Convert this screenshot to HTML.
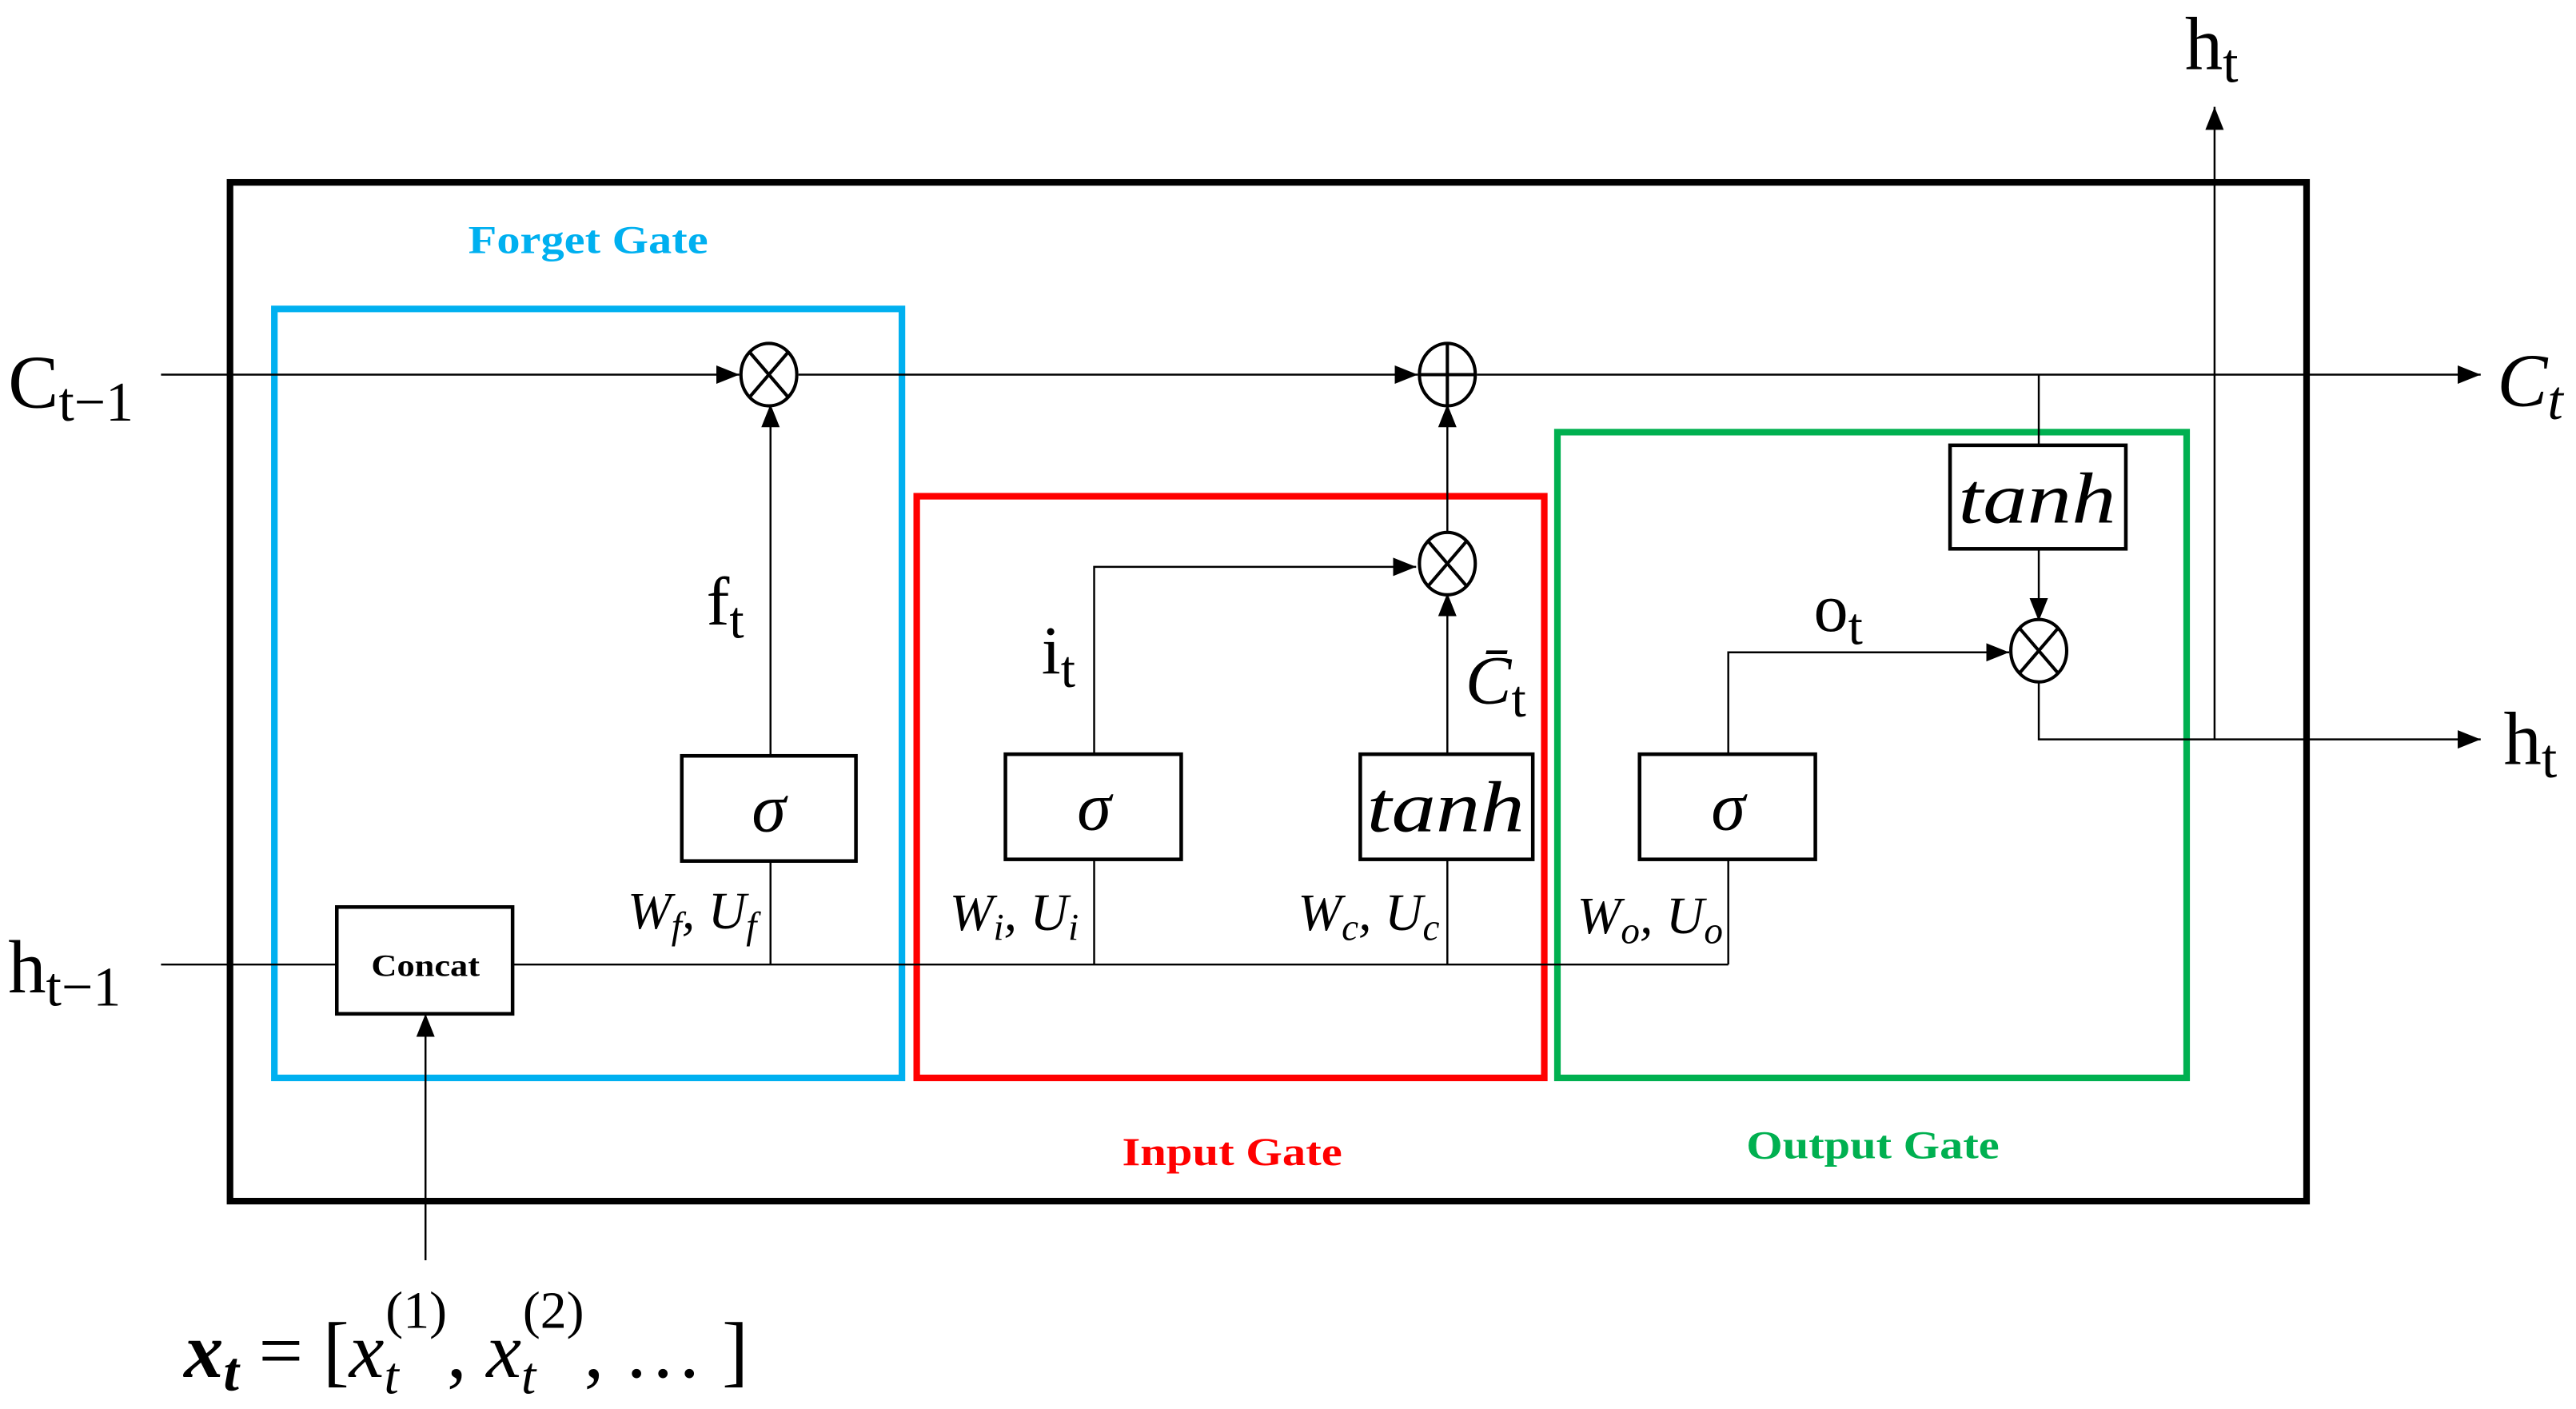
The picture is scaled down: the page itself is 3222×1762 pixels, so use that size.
<!DOCTYPE html>
<html><head><meta charset="utf-8"><style>
html,body{margin:0;padding:0;background:#fff;}
svg{display:block;}
.m{font-family:"Liberation Serif",serif;fill:#000;}
.i{font-style:italic;}
.g{font-family:"Liberation Serif",serif;font-weight:bold;}
</style></head><body>
<svg width="3222" height="1762" viewBox="0 0 1568 857.5" xmlns="http://www.w3.org/2000/svg">
<defs>
<marker id="b" viewBox="0 0 10 10" refX="10" refY="5" markerWidth="14" markerHeight="14" markerUnits="userSpaceOnUse" orient="auto">
<path d="M0,1 L10,5 L0,9 z" fill="#000"/></marker>
</defs>
<rect width="1568" height="857.5" fill="#fff"/>
<rect x="140" y="111" width="1264" height="620" fill="none" stroke="#000" stroke-width="4"/>
<rect x="167" y="188" width="382" height="468" fill="none" stroke="#00b0f0" stroke-width="4"/>
<rect x="558" y="302" width="382" height="354" fill="none" stroke="#ff0000" stroke-width="4"/>
<rect x="948" y="263" width="383" height="393" fill="none" stroke="#00b050" stroke-width="4"/>
<text x="358" y="154" text-anchor="middle" class="g" font-size="24" fill="#00b0f0" textLength="146" lengthAdjust="spacingAndGlyphs">Forget Gate</text>
<text x="750" y="709" text-anchor="middle" class="g" font-size="24" fill="#ff0000" textLength="134" lengthAdjust="spacingAndGlyphs">Input Gate</text>
<text x="1140" y="705" text-anchor="middle" class="g" font-size="24" fill="#00b050" textLength="154" lengthAdjust="spacingAndGlyphs">Output Gate</text>

<g stroke="#000" stroke-width="1.2" fill="none">
<line x1="98" y1="228" x2="450" y2="228" marker-end="url(#b)"/>
<line x1="486" y1="228" x2="863" y2="228" marker-end="url(#b)"/>
<line x1="899" y1="228" x2="1510" y2="228" marker-end="url(#b)"/>
<line x1="469" y1="460" x2="469" y2="246" marker-end="url(#b)"/>
<line x1="469" y1="524" x2="469" y2="587"/>
<line x1="98" y1="587" x2="205" y2="587"/>
<line x1="312" y1="587" x2="1052" y2="587"/>
<line x1="259" y1="767" x2="259" y2="617" marker-end="url(#b)"/>
<line x1="666" y1="523" x2="666" y2="587"/>
<polyline points="666,459 666,345 862,345" marker-end="url(#b)"/>
<line x1="881" y1="523" x2="881" y2="587"/>
<line x1="881" y1="459" x2="881" y2="361" marker-end="url(#b)"/>
<line x1="881" y1="325" x2="881" y2="246" marker-end="url(#b)"/>
<line x1="1052" y1="523" x2="1052" y2="587"/>
<polyline points="1052,459 1052,397 1223,397" marker-end="url(#b)"/>
<line x1="1241" y1="228" x2="1241" y2="271"/>
<line x1="1241" y1="334" x2="1241" y2="378" marker-end="url(#b)"/>
<polyline points="1241,414 1241,450 1510,450" marker-end="url(#b)"/>
<line x1="1348" y1="450" x2="1348" y2="65" marker-end="url(#b)"/>
</g>
<g stroke="#000" stroke-width="2" fill="#fff">
<ellipse cx="468" cy="228" rx="17" ry="19"/>
<ellipse cx="881" cy="228" rx="17" ry="19"/>
<ellipse cx="881" cy="343" rx="17" ry="19"/>
<ellipse cx="1241" cy="396" rx="17" ry="19"/>
</g>
<g stroke="#000" stroke-width="2">
<line x1="456" y1="214" x2="480" y2="242"/><line x1="480" y1="214" x2="456" y2="242"/>
<line x1="864" y1="228" x2="898" y2="228"/><line x1="881" y1="209" x2="881" y2="247"/>
<line x1="869" y1="329" x2="893" y2="357"/><line x1="893" y1="329" x2="869" y2="357"/>
<line x1="1229" y1="382" x2="1253" y2="410"/><line x1="1253" y1="382" x2="1229" y2="410"/>
</g>
<g stroke="#000" stroke-width="2.2" fill="#fff">
<rect x="415" y="460" width="106" height="64"/>
<rect x="612" y="459" width="107" height="64"/>
<rect x="828" y="459" width="105" height="64"/>
<rect x="998" y="459" width="107" height="64"/>
<rect x="1187" y="271" width="107" height="63"/>
<rect x="205" y="552" width="107" height="65"/>
</g>
<g class="m i" font-size="42" text-anchor="middle">
<text x="468" y="506">σ</text>
<text x="666" y="505">σ</text>
<text x="1052" y="505">σ</text>
<text x="880" y="506" font-size="44" textLength="96" lengthAdjust="spacingAndGlyphs">tanh</text>
<text x="1240" y="318" font-size="44" textLength="96" lengthAdjust="spacingAndGlyphs">tanh</text>
</g>
<text x="259" y="594" text-anchor="middle" class="g" font-size="19" textLength="66" lengthAdjust="spacingAndGlyphs">Concat</text>
<g class="m" font-size="46">
<text x="5" y="248">C<tspan font-size="34" dy="8">t−1</tspan></text>
<text x="5" y="604">h<tspan font-size="34" dy="8">t−1</tspan></text>
<text x="1330" y="42">h<tspan font-size="34" dy="8">t</tspan></text>
<text x="1524" y="465">h<tspan font-size="34" dy="8">t</tspan></text>
<text x="1520" y="247" class="i">C<tspan font-size="34" dy="8">t</tspan></text>
<text x="430" y="380" font-size="42">f<tspan font-size="32" dy="8">t</tspan></text>
<text x="634" y="410" font-size="42">i<tspan font-size="32" dy="8">t</tspan></text>
<text x="1104" y="384" font-size="42">o<tspan font-size="32" dy="8">t</tspan></text>
<text x="892" y="428" font-size="42"><tspan font-style="italic">C̄</tspan><tspan font-size="32" dy="8">t</tspan></text>
</g>
<g class="m i" font-size="32">
<text x="382" y="565">W<tspan font-size="23" dy="6">f</tspan><tspan dy="-6">, U</tspan><tspan font-size="23" dy="6">f</tspan></text>
<text x="578" y="566">W<tspan font-size="23" dy="6">i</tspan><tspan dy="-6">, U</tspan><tspan font-size="23" dy="6">i</tspan></text>
<text x="790" y="566">W<tspan font-size="23" dy="6">c</tspan><tspan dy="-6">, U</tspan><tspan font-size="23" dy="6">c</tspan></text>
<text x="960" y="568">W<tspan font-size="23" dy="6">o</tspan><tspan dy="-6">, U</tspan><tspan font-size="23" dy="6">o</tspan></text>
</g>
<text x="112" y="838" class="m" font-size="48"><tspan font-weight="bold" font-style="italic">x</tspan><tspan font-weight="bold" font-style="italic" font-size="34" dy="8">t</tspan><tspan dy="-8"> = [</tspan><tspan font-style="italic">x</tspan><tspan font-size="32" font-style="italic" dy="10">t</tspan><tspan font-size="32" dx="-8" dy="-40">(1)</tspan><tspan dy="30">, </tspan><tspan font-style="italic">x</tspan><tspan font-size="32" font-style="italic" dy="10">t</tspan><tspan font-size="32" dx="-8" dy="-40">(2)</tspan><tspan dy="30">, … ]</tspan></text>
</svg>
</body></html>
